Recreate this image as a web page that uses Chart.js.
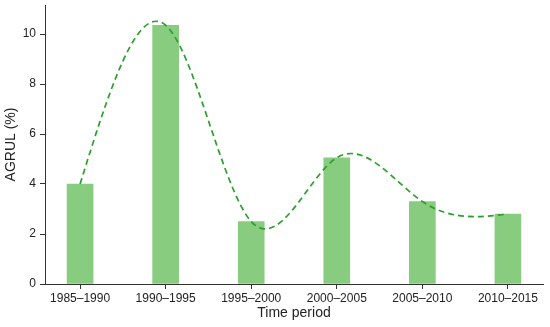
<!DOCTYPE html>
<html>
<head>
<meta charset="utf-8">
<script src="https://cdn.jsdelivr.net/npm/chart.js@4.4.1/dist/chart.umd.min.js"></script>
<style>
  html, body { margin: 0; padding: 0; background: #fff; }
</style>
</head>
<body>
<canvas id="agrul-chart" width="550" height="327"></canvas>
<script>
const periods = ['1985–1990', '1990–1995', '1995–2000', '2000–2005', '2005–2010', '2010–2015'];
const agrul = [4.0, 10.35, 2.5, 5.05, 3.3, 2.8];
const yTickValues = [0, 2, 4, 6, 8, 10];

const points = agrul.map((v, i) => ({x: i, y: v}));
const axisColor = '#333';
const textColor = '#222';
const font = {family: 'Liberation Sans, Arial, sans-serif', size: 12};
const titleFont = {family: font.family, size: 14};

// natural cubic spline slopes through the values (unit spacing)
const splineSlopes = (ys) => {
    const n = ys.length - 1;
    const M = new Array(n + 1).fill(0);
    if (n > 1) {
        const a = [], b = [], c = [], d = [];
        for (let i = 1; i < n; i++) {
            a.push(1); b.push(4); c.push(1);
            d.push(6 * (ys[i + 1] - 2 * ys[i] + ys[i - 1]));
        }
        for (let i = 1; i < d.length; i++) {
            const w = a[i] / b[i - 1];
            b[i] -= w * c[i - 1];
            d[i] -= w * d[i - 1];
        }
        const sol = new Array(d.length);
        for (let i = d.length - 1; i >= 0; i--) {
            sol[i] = (d[i] - (i < d.length - 1 ? c[i] * sol[i + 1] : 0)) / b[i];
        }
        sol.forEach((v, i) => { M[i + 1] = v; });
    }
    const m = [];
    for (let i = 0; i < n; i++) m.push((ys[i + 1] - ys[i]) - (2 * M[i] + M[i + 1]) / 6);
    m.push((ys[n] - ys[n - 1]) + (M[n - 1] + 2 * M[n]) / 6);
    return m;
};

const trendCurve = {
    id: 'trendCurve',
    afterDatasetsDraw(chart) {
        const {ctx, scales: {x, y}} = chart;
        const m = splineSlopes(agrul);
        const px = v => x.getPixelForValue(v);
        const py = v => y.getPixelForValue(v);
        ctx.save();
        ctx.strokeStyle = '#2ca02c';
        ctx.lineWidth = 1.7;
        ctx.setLineDash([6, 4]);
        ctx.beginPath();
        ctx.moveTo(px(0), py(agrul[0]));
        for (let i = 0; i < agrul.length - 1; i++) {
            ctx.bezierCurveTo(
                px(i + 1 / 3), py(agrul[i] + m[i] / 3),
                px(i + 2 / 3), py(agrul[i + 1] - m[i + 1] / 3),
                px(i + 1), py(agrul[i + 1])
            );
        }
        ctx.stroke();
        ctx.restore();
    }
};

const config = {
    type: 'bar',
    data: {
        datasets: [{
            data: points,
            backgroundColor: '#88cc7f',
            borderWidth: 0,
            barThickness: 26
        }]
    },
    options: {
        responsive: false,
        animation: false,
        layout: {padding: {top: 5, right: 7, left: 0, bottom: 0}},
        plugins: {legend: {display: false}, tooltip: {enabled: false}},
        scales: {
            x: {
                type: 'linear',
                min: -0.41,
                max: 5.41,
                offset: false,
                afterBuildTicks: axis => { axis.ticks = periods.map((p, i) => ({value: i})); },
                afterFit: axis => { axis.height = 43; axis.paddingLeft = 0; axis.paddingRight = 0; },
                ticks: {
                    callback: v => periods[v],
                    color: textColor,
                    font: font,
                    padding: 2,
                    maxRotation: 0,
                    autoSkip: false
                },
                grid: {offset: false, drawOnChartArea: false, drawTicks: true, tickLength: 5, color: axisColor},
                border: {color: axisColor, width: 1},
                title: {
                    display: true,
                    text: 'Time period',
                    color: textColor,
                    font: titleFont,
                    padding: {top: 0, bottom: 5}
                }
            },
            y: {
                min: 0,
                max: 11.16,
                afterBuildTicks: axis => { axis.ticks = yTickValues.map(v => ({value: v})); },
                afterFit: axis => { axis.width = 45; axis.paddingTop = 0; axis.paddingBottom = 0; },
                ticks: {color: textColor, font: font, padding: 4},
                grid: {drawOnChartArea: false, drawTicks: true, tickLength: 5, color: axisColor},
                border: {color: axisColor, width: 1},
                title: {
                    display: true,
                    text: 'AGRUL (%)',
                    color: textColor,
                    font: titleFont,
                    padding: {top: 3, bottom: 4}
                }
            }
        }
    },
    plugins: [trendCurve]
};

const agrulChart = new Chart(document.getElementById('agrul-chart'), config);
</script>
</body>
</html>
